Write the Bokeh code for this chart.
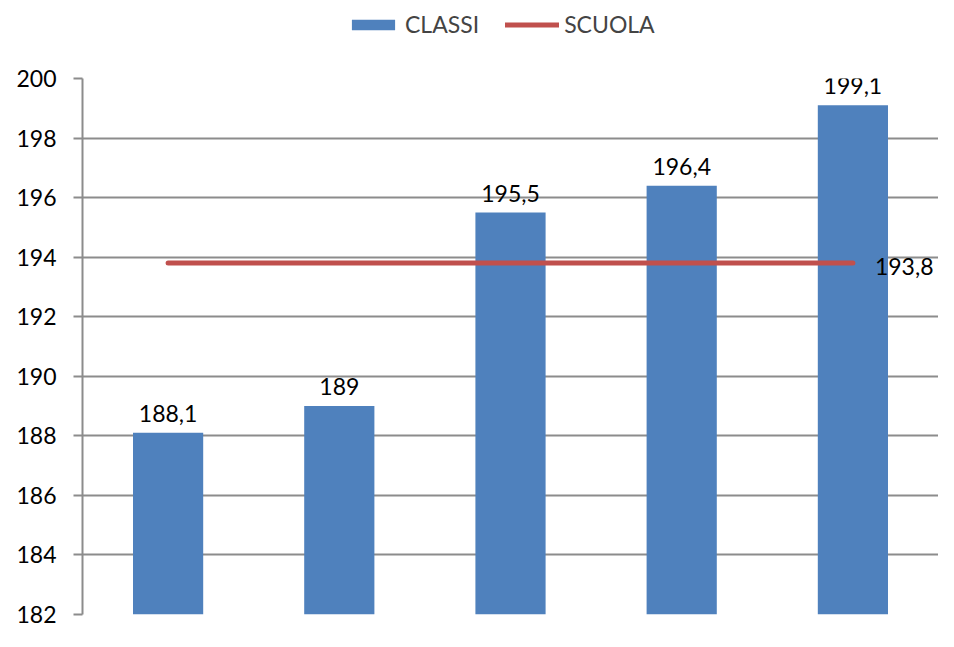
from bokeh.plotting import figure
from bokeh.models import Range1d, Legend, LegendItem, ColumnDataSource
from bokeh.layouts import column
from bokeh.core.properties import value
from bokeh.embed import file_html
from bokeh.resources import INLINE
import numpy as np

# data
classi = [188.1, 189.0, 195.5, 196.4, 199.1]
scuola = [193.8, 193.8, 193.8, 193.8, 193.8]
classi_labels = ["188,1", "189", "195,5", "196,4", "199,1"]
scuola_label = "193,8"
series_names = ["CLASSI", "SCUOLA"]
y_ticks = [182, 184, 186, 188, 190, 192, 194, 196, 198, 200]

FONT = "Lato"
BLUE = "#4F81BD"
RED = "#C0504D"
GRID = "#8C8C8C"

xpos = np.arange(len(classi)) + 0.5

# ---- legend strip ----
lg = figure(width=938, height=50, output_backend="svg", toolbar_location=None,
            x_range=Range1d(0, 1), y_range=Range1d(0, 1),
            min_border_left=0, min_border_right=0, min_border_top=0, min_border_bottom=0)
lg.outline_line_color = None
lg.axis.visible = False
lg.grid.visible = False
lb = lg.vbar(x=xpos + 10, top=classi, bottom=182, width=0.41, fill_color=BLUE, line_color=None)
ll = lg.line(x=xpos + 10, y=scuola, line_color=RED, line_width=5, line_cap="round")
legend = Legend(items=[LegendItem(label=series_names[0], renderers=[lb]),
                       LegendItem(label=series_names[1], renderers=[ll])],
                orientation="horizontal", location=(264, 12),
                label_text_font=FONT, label_text_font_size="23px",
                glyph_width=54, glyph_height=13, label_standoff=5, spacing=26,
                border_line_color=None, background_fill_alpha=0,
                padding=4, margin=0)
lg.add_layout(legend, "center")

# ---- main chart ----
p = figure(width=938, height=581, output_backend="svg", toolbar_location=None,
           x_range=Range1d(0, 5.0), y_range=Range1d(182, 200),
           min_border_left=82, min_border_right=0, min_border_bottom=17, min_border_top=28)
p.outline_line_color = None
p.background_fill_color = "white"

bars = p.vbar(x=xpos, top=classi, bottom=182, width=0.41, fill_color=BLUE, line_color=None)
line = p.line(x=xpos, y=scuola, line_color=RED, line_width=5, line_cap="round")

src = ColumnDataSource(dict(x=xpos, y=classi, t=classi_labels))
p.text(x="x", y="y", text="t", source=src, text_align="center", text_baseline="bottom",
       y_offset=-11, text_font=value(FONT), text_font_size="23px", text_color="black")
p.text(x=[xpos[-1]], y=[scuola[-1]], text=[scuola_label], text_align="left",
       text_baseline="middle", x_offset=22, y_offset=3, text_font=value(FONT),
       text_font_size="23px", text_color="black")

p.xaxis.visible = False
p.xgrid.visible = False
p.yaxis.ticker = y_ticks
p.yaxis.major_label_text_font = FONT
p.yaxis.major_label_text_font_size = "23px"
p.yaxis.major_label_text_color = "black"
p.yaxis.axis_line_color = GRID
p.yaxis.axis_line_width = 2
p.yaxis.major_tick_line_color = GRID
p.yaxis.major_tick_line_width = 2
p.yaxis.major_tick_out = 9
p.yaxis.major_tick_in = 0
p.yaxis.minor_tick_line_color = None
p.yaxis.major_label_standoff = 17
p.ygrid.grid_line_color = GRID
p.ygrid.grid_line_width = 2

layout = column(lg, p, spacing=0)
open("out.html", "w").write(file_html(layout, INLINE))
